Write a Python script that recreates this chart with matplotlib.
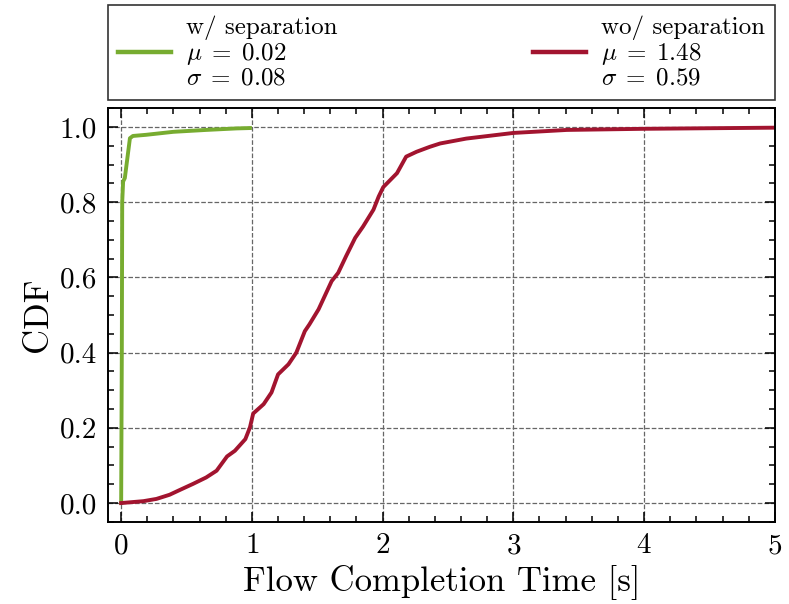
import matplotlib
matplotlib.use('Agg')
import matplotlib.pyplot as plt
from matplotlib.ticker import MultipleLocator

plt.rcParams['font.family'] = 'serif'
plt.rcParams['font.serif'] = ['cmr10']
plt.rcParams['mathtext.fontset'] = 'cm'
plt.rcParams['axes.formatter.use_mathtext'] = True

# CDF of flow completion time
sep_x = [0.0, 0.005, 0.008, 0.015, 0.028, 0.067, 0.09, 0.19, 0.40, 0.65, 0.88, 0.985]
sep_y = [0.0, 0.4, 0.80, 0.855, 0.864, 0.97, 0.976, 0.979, 0.987, 0.992, 0.996, 0.997]

nosep_x = [0.0, 0.17, 0.27, 0.37, 0.45, 0.55, 0.65, 0.73, 0.81, 0.87, 0.95, 0.985,
           1.01, 1.09, 1.15, 1.20, 1.28, 1.34, 1.405, 1.44, 1.51, 1.61, 1.66, 1.72,
           1.79, 1.85, 1.93, 1.97, 2.005, 2.11, 2.18, 2.26, 2.36, 2.44, 2.64, 3.0,
           3.41, 4.0, 5.0]
nosep_y = [0.0, 0.005, 0.011, 0.022, 0.035, 0.051, 0.068, 0.086, 0.124, 0.139, 0.17, 0.201,
           0.238, 0.263, 0.294, 0.342, 0.369, 0.40, 0.457, 0.475, 0.515, 0.59, 0.612, 0.656,
           0.705, 0.735, 0.78, 0.815, 0.84, 0.877, 0.921, 0.934, 0.947, 0.956, 0.969, 0.984,
           0.992, 0.995, 0.998]

labels = ['w/ separation\n$\\mu\\;=\\;0.02$\n$\\sigma\\;=\\;0.08$',
          'wo/ separation\n$\\mu\\;=\\;1.48$\n$\\sigma\\;=\\;0.59$']

fig = plt.figure(figsize=(7.89, 6.04), dpi=100)
ax = fig.add_axes([0.137, 0.136, 0.845, 0.685])

ax.plot(sep_x, sep_y, color='#77AC30', lw=2.8, label=labels[0])
ax.plot(nosep_x, nosep_y, color='#A2142F', lw=2.8, label=labels[1])

ax.set_xlim(-0.1, 5)
ax.set_ylim(-0.05, 1.05)
ax.xaxis.set_major_locator(MultipleLocator(1))
ax.xaxis.set_minor_locator(MultipleLocator(0.2))
ax.yaxis.set_major_locator(MultipleLocator(0.2))
ax.yaxis.set_minor_locator(MultipleLocator(0.05))
ax.yaxis.set_major_formatter(matplotlib.ticker.FormatStrFormatter('%.1f'))
ax.tick_params(which='both', direction='in', top=True, right=True, labelsize=21, width=1.1)
ax.tick_params(which='major', length=7, pad=8)
ax.tick_params(which='minor', length=4)
for s in ax.spines.values():
    s.set_linewidth(1.4)
ax.grid(True, which='major', linestyle='--', color='#666666', linewidth=0.9)

ax.set_xlabel('Flow Completion Time [s]', fontsize=25)
ax.set_ylabel('CDF', fontsize=25)

leg = ax.legend(loc='lower left', bbox_to_anchor=(0, 1.02, 1, 0.2), mode='expand',
                borderaxespad=0, ncol=2, fontsize=18, frameon=True, fancybox=False,
                edgecolor='black', handlelength=2.1, handletextpad=0.6, borderpad=0.4)
leg.get_frame().set_linewidth(1.2)
for l in leg.get_lines():
    l.set_linewidth(3.2)
for t in leg.get_texts():
    t.set_linespacing(1.05)

plt.savefig('out.png', dpi=100)
plt.close()
